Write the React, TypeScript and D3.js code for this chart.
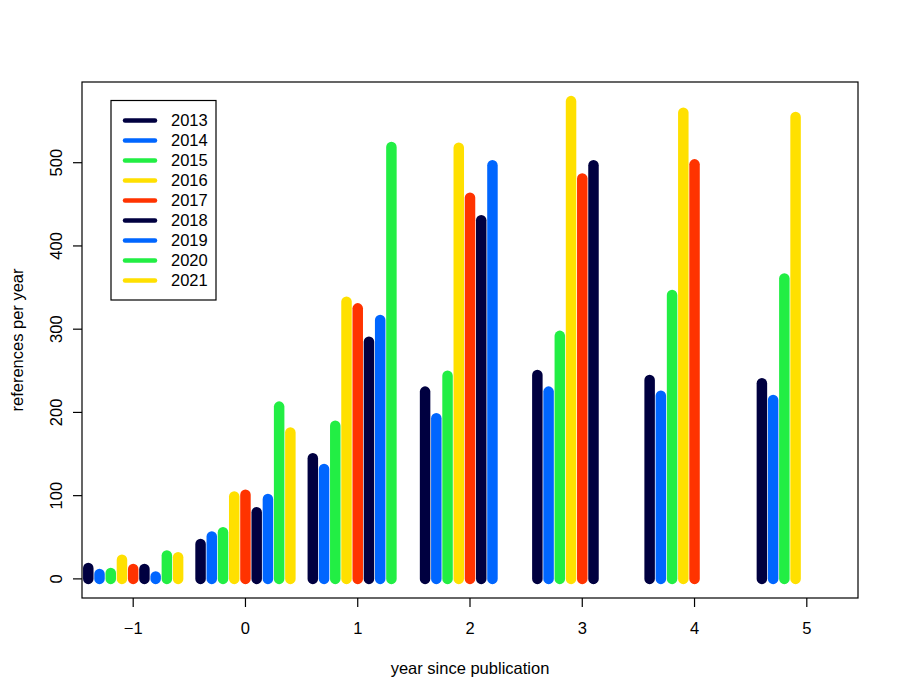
import { useEffect } from "react";
import * as d3 from "d3";

// years since publication on the x axis
const yearsSince = [-1, 0, 1, 2, 3, 4, 5];

// references per year, one list per publication year (starting at year -1)
const refs2013 = [13, 42, 145, 225, 245, 239, 235];
const refs2014 = [6, 51, 132, 193, 225, 220, 215];
const refs2015 = [7, 56, 184, 244, 292, 341, 361];
const refs2016 = [23, 99, 333, 518, 574, 560, 555];
const refs2017 = [12, 101, 325, 458, 481, 498];
const refs2018 = [12, 80, 285, 431, 497];
const refs2019 = [3, 96, 311, 497];
const refs2020 = [28, 207, 519];
const refs2021 = [26, 176];

const pubYears = ["2013", "2014", "2015", "2016", "2017", "2018", "2019", "2020", "2021"];
const palette = ["#000040", "#0066FF", "#22EE44", "#FFE000", "#FF3300"];
const yTicks = [0, 100, 200, 300, 400, 500];

const seriesValues = [
  refs2013, refs2014, refs2015, refs2016, refs2017,
  refs2018, refs2019, refs2020, refs2021,
];

const W = 900;
const H = 700;
const FONT = "'Liberation Sans', Arial, Helvetica, sans-serif";

export default function App() {
  useEffect(() => {
    document.body.style.margin = "0";
  }, []);

  const left = 82;
  const right = 858;
  const top = 82;
  const bottom = 598;

  // xlim c(-1.2, 5.2) with the usual 4% padding, ylim from data range padded 4%
  const xPad = (5.2 - -1.2) * 0.04;
  const x = d3.scaleLinear().domain([-1.2 - xPad, 5.2 + xPad]).range([left, right]);
  const yMax = d3.max(seriesValues.flat()) ?? 0;
  const yPad = yMax * 0.04;
  const y = d3.scaleLinear().domain([0 - yPad, yMax + yPad]).range([bottom, top]);

  const series = pubYears.map((year, i) => ({
    year,
    color: palette[i % palette.length],
    offset: (i - 4) * 0.1,
    values: seriesValues[i],
  }));

  const fs = 16.5;

  return (
    <svg width={W} height={H} style={{ display: "block", background: "#fff" }} fontFamily={FONT}>
      {/* vertical "h"-style lines */}
      {series.map((s) =>
        s.values.map((v, j) => (
          <line
            key={`${s.year}-${j}`}
            x1={x(yearsSince[j] + s.offset)}
            x2={x(yearsSince[j] + s.offset)}
            y1={y(0)}
            y2={y(v)}
            stroke={s.color}
            strokeWidth={10.5}
            strokeLinecap="round"
          />
        ))
      )}

      {/* plot box */}
      <rect
        x={left}
        y={top}
        width={right - left}
        height={bottom - top}
        fill="none"
        stroke="#000"
        strokeWidth={1.2}
      />

      {/* y axis */}
      {yTicks.map((t) => (
        <g key={`yt-${t}`}>
          <line x1={left - 9} x2={left} y1={y(t)} y2={y(t)} stroke="#000" strokeWidth={1.2} />
          <text
            transform={`translate(${left - 20},${y(t)}) rotate(-90)`}
            textAnchor="middle"
            fontSize={fs}
            fill="#000"
          >
            {t}
          </text>
        </g>
      ))}

      {/* x axis */}
      {yearsSince.map((t) => (
        <g key={`xt-${t}`}>
          <line x1={x(t)} x2={x(t)} y1={bottom} y2={bottom + 9} stroke="#000" strokeWidth={1.2} />
          <text x={x(t)} y={bottom + 36} textAnchor="middle" fontSize={fs} fill="#000">
            {t < 0 ? `\u2212${-t}` : t}
          </text>
        </g>
      ))}

      <text x={(left + right) / 2} y={674} textAnchor="middle" fontSize={fs} fill="#000">
        year since publication
      </text>
      <text
        transform={`translate(23,${(top + bottom) / 2}) rotate(-90)`}
        textAnchor="middle"
        fontSize={fs}
        fill="#000"
      >
        references per year
      </text>

      {/* legend */}
      <g>
        <rect x={111} y={100.5} width={105} height={199.5} fill="#fff" stroke="#000" strokeWidth={1.2} />
        {series.map((s, i) => (
          <g key={`lg-${s.year}`} transform={`translate(0,${120.5 + i * 20})`}>
            <line x1={125} x2={155} y1={0} y2={0} stroke={s.color} strokeWidth={4.5} strokeLinecap="round" />
            <text x={171} y={0} dy="0.36em" fontSize={fs} fill="#000">
              {s.year}
            </text>
          </g>
        ))}
      </g>
    </svg>
  );
}
